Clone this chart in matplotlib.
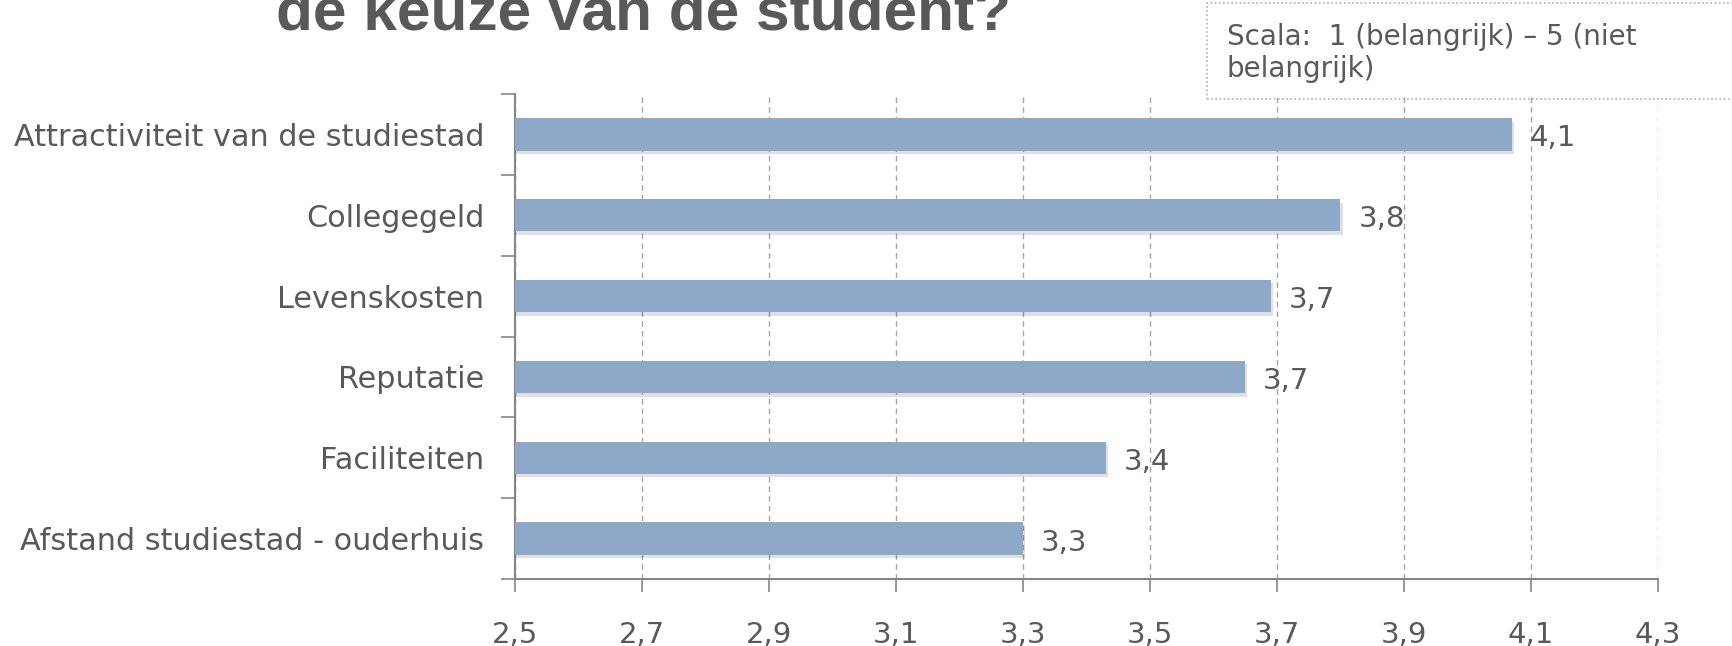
"""
Recreate the horizontal bar chart: factoren in de keuze van de student.
"""

import numpy as np
import matplotlib
matplotlib.use("Agg")
import matplotlib.pyplot as plt
from matplotlib.patches import Rectangle
import matplotlib.patheffects as pe

## DATA ##
# --------------------------------------------------------------------------- #

categories = [
    "Attractiviteit van de studiestad",
    "Collegegeld",
    "Levenskosten",
    "Reputatie",
    "Faciliteiten",
    "Afstand studiestad - ouderhuis",
]
scores = [4.07, 3.80, 3.69, 3.65, 3.43, 3.30]
score_labels = ["4,1", "3,8", "3,7", "3,7", "3,4", "3,3"]
x_ticks = [2.5, 2.7, 2.9, 3.1, 3.3, 3.5, 3.7, 3.9, 4.1, 4.3]
x_tick_labels = ["2,5", "2,7", "2,9", "3,1", "3,3", "3,5", "3,7", "3,9", "4,1", "4,3"]

title_text = "de keuze van de student?"
scale_text = "Scala:  1 (belangrijk) \u2013 5 (niet\nbelangrijk)"

# --------------------------------------------------------------------------- #

TEXT_GREY = "#595959"
AXIS_GREY = "#868686"
BAR_BLUE = "#8EA8C7"
LABEL_FONT = ["DejaVu Sans"]


def main():
    fig = plt.figure(figsize=(17.33, 6.46), dpi=100)
    ax = fig.add_axes([0.2972, 0.1037, 0.9567 - 0.2972, 0.8545 - 0.1037])

    y_pos = np.arange(len(categories))[::-1]
    bars = ax.barh(y_pos, scores, height=0.4, left=0, color=BAR_BLUE,
                   edgecolor="none", zorder=3)
    for bar in bars:
        bar.set_path_effects([
            pe.SimplePatchShadow(offset=(1.5, -2.5), shadow_rgbFace="#000000",
                                 alpha=0.12),
            pe.Normal(),
        ])

    for y, value, label in zip(y_pos, scores, score_labels):
        ax.annotate(label, xy=(value, y), xytext=(18, -4),
                    textcoords="offset pixels", ha="left", va="center",
                    fontsize=21, color=TEXT_GREY, family=LABEL_FONT)

    ax.set_xlim(x_ticks[0], x_ticks[-1])
    ax.set_ylim(-0.5, len(categories) - 0.5)

    ax.set_xticks(x_ticks)
    ax.set_xticklabels(x_tick_labels, fontsize=21, color=TEXT_GREY,
                       family=LABEL_FONT)
    ax.tick_params(axis="x", direction="out", length=9, width=1.2,
                   color=AXIS_GREY, pad=21)

    # category labels on centres, tick marks on the boundaries
    ax.set_yticks(y_pos)
    ax.set_yticklabels(categories, fontsize=21.8, color=TEXT_GREY,
                       family=LABEL_FONT)
    ax.tick_params(axis="y", which="major", length=0, pad=22)
    ax.set_yticks(np.arange(-0.5, len(categories)), minor=True)
    ax.tick_params(axis="y", which="minor", direction="out", length=10,
                   width=1.2, color=AXIS_GREY)

    ax.grid(axis="x", linestyle=(0, (4, 3)), color="#a6a6a6", linewidth=1.0,
            zorder=0)
    ax.grid(axis="y", visible=False)
    for side in ["top", "right"]:
        ax.spines[side].set_visible(False)
    for side in ["left", "bottom"]:
        ax.spines[side].set_color(AXIS_GREY)
        ax.spines[side].set_linewidth(1.5)

    fig.text(0.159, 1 - 30 / 646, title_text, ha="left", va="baseline",
             fontsize=43.5, fontweight="bold", color=TEXT_GREY,
             family=["Liberation Sans", "DejaVu Sans"])

    fig.patches.append(Rectangle((0.6965, 1 - 99 / 646), 0.31, 96 / 646,
                                 transform=fig.transFigure, fill=False,
                                 edgecolor="#b0b0b0", linewidth=1.2,
                                 linestyle=(0, (1, 1.5))))
    fig.text(0.708, 1 - 23 / 646, scale_text, ha="left", va="top",
             fontsize=20, color=TEXT_GREY, family=LABEL_FONT,
             linespacing=1.2)

    fig.savefig("out.png", dpi=100)


if __name__ == "__main__":
    main()
